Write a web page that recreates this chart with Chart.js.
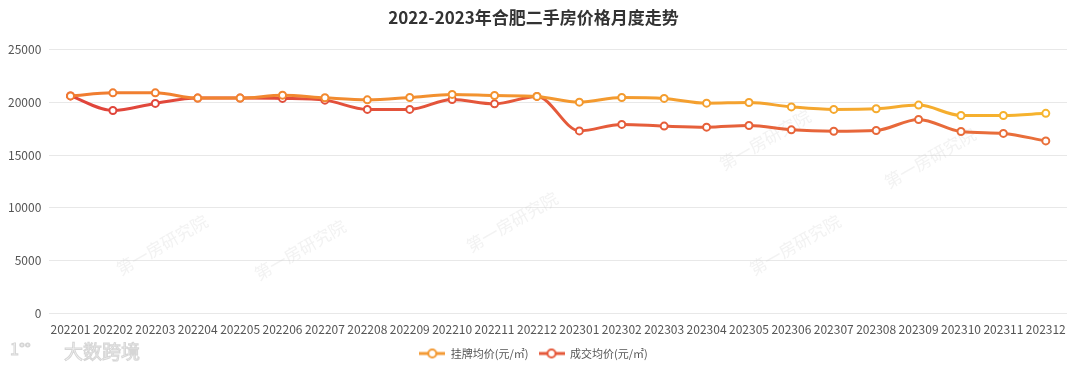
<!DOCTYPE html>
<html>
<head>
<meta charset="utf-8">
<script src="https://cdn.jsdelivr.net/npm/chart.js@4/dist/chart.umd.min.js"></script>
<style>
    html, body { margin: 0; padding: 0; background: #fff; }
    #chartPrecios { display: block; }
</style>
</head>
<body>
<canvas id="chartPrecios" width="1080" height="373"></canvas>
<script>
const meses = ['202201', '202202', '202203', '202204', '202205', '202206', '202207', '202208', '202209', '202210', '202211', '202212',
    '202301', '202302', '202303', '202304', '202305', '202306', '202307', '202308', '202309', '202310', '202311', '202312'];
const guapai = [20600, 20890, 20890, 20390, 20390, 20670, 20420, 20230, 20450, 20740, 20640, 20550,
    20010, 20450, 20360, 19910, 19980, 19560, 19320, 19380, 19730, 18750, 18750, 18950];
const chengjiao = [20600, 19220, 19890, 20390, 20390, 20360, 20200, 19320, 19320, 20260, 19850, 20550,
    17290, 17900, 17740, 17640, 17800, 17390, 17260, 17330, 18370, 17230, 17050, 16340];
const yTicks = [0, 5000, 10000, 15000, 20000, 25000];
const nombres = ['挂牌均价(元/㎡)', '成交均价(元/㎡)'];
const titulo = '2022-2023年合肥二手房价格月度走势';

const FONT = '"Noto Sans CJK SC", "Noto Sans", sans-serif';
const colores = [['#f07a30', '#f6b52e'], ['#e0433b', '#e9703a']];

const mezclar = (a, b, t) => {
    const pa = [1, 3, 5].map(i => parseInt(a.substr(i, 2), 16));
    const pb = [1, 3, 5].map(i => parseInt(b.substr(i, 2), 16));
    const c = pa.map((v, i) => Math.round(v + (pb[i] - v) * t));
    return `rgb(${c[0]}, ${c[1]}, ${c[2]})`;
};

const gradiente = (par) => (context) => {
    const chart = context.chart;
    const area = chart.chartArea;
    if (!area) return par[0];
    const g = chart.ctx.createLinearGradient(area.left, 0, area.right, 0);
    g.addColorStop(0, par[0]);
    g.addColorStop(1, par[1]);
    return g;
};

const coloresPuntos = (par) => meses.map((m, i) => mezclar(par[0], par[1], i / (meses.length - 1)));

const iconoLeyenda = (color) => {
    const c = document.createElement('canvas');
    c.width = 26;
    c.height = 12;
    const x = c.getContext('2d');
    x.strokeStyle = color;
    x.lineWidth = 3;
    x.beginPath();
    x.moveTo(0, 6);
    x.lineTo(26, 6);
    x.stroke();
    x.fillStyle = '#fff';
    x.lineWidth = 2;
    x.beginPath();
    x.arc(13, 6, 4, 0, Math.PI * 2);
    x.fill();
    x.stroke();
    return c;
};

const marcaAgua = {
    id: 'marcaAgua',
    beforeDatasetsDraw(chart) {
        const ctx = chart.ctx;
        ctx.save();
        ctx.fillStyle = 'rgba(205, 205, 205, 0.25)';
        ctx.font = '17px ' + FONT;
        ctx.textAlign = 'center';
        ctx.textBaseline = 'middle';
        [[162, 245], [300, 250], [512, 222], [795, 245], [765, 140], [930, 158]].forEach(p => {
            ctx.save();
            ctx.translate(p[0], p[1]);
            ctx.rotate(-Math.PI / 6);
            ctx.fillText('第一房研究院', 0, 0);
            ctx.restore();
        });
        ctx.restore();
    },
    afterDraw(chart) {
        const ctx = chart.ctx;
        ctx.save();
        ctx.font = '19px ' + FONT;
        ctx.textBaseline = 'middle';
        ctx.fillStyle = '#f6f6f6';
        ctx.strokeStyle = '#d6d6d6';
        ctx.lineWidth = 1;
        ctx.fillText('大数跨境', 64, 352);
        ctx.strokeText('大数跨境', 64, 352);
        ctx.font = '16px ' + FONT;
        ctx.strokeText('1°°', 10, 349);
        ctx.restore();
    }
};

const ctx = document.getElementById('chartPrecios').getContext('2d');

const chartPrecios = new Chart(ctx, {
    type: 'line',
    data: {
        labels: meses,
        datasets: [guapai, chengjiao].map((serie, i) => ({
            label: nombres[i],
            data: serie,
            borderColor: gradiente(colores[i]),
            borderWidth: 3,
            cubicInterpolationMode: 'monotone',
            pointRadius: 3.5,
            pointHoverRadius: 4,
            pointBorderWidth: 2,
            pointBackgroundColor: '#fff',
            pointBorderColor: coloresPuntos(colores[i]),
            fill: false
        }))
    },
    options: {
        responsive: false,
        animation: false,
        devicePixelRatio: 1,
        layout: { padding: { left: 0, right: 13, top: 0, bottom: 4 } },
        plugins: {
            title: {
                display: true,
                text: titulo,
                color: '#333',
                font: { family: FONT, size: 17, weight: 'bold' },
                padding: { top: 7, bottom: 22 }
            },
            legend: {
                position: 'bottom',
                labels: {
                    color: '#555',
                    font: { family: FONT, size: 11 },
                    usePointStyle: true,
                    pointStyleWidth: 26,
                    boxHeight: 12,
                    padding: 10,
                    generateLabels: (chart) => chart.data.datasets.map((d, i) => ({
                        text: d.label,
                        pointStyle: iconoLeyenda(i === 0 ? '#f39a34' : '#e5583a'),
                        fontColor: '#555',
                        datasetIndex: i,
                        hidden: false,
                        lineWidth: 0
                    }))
                }
            },
            tooltip: { enabled: false }
        },
        scales: {
            x: {
                offset: true,
                grid: { display: false },
                border: { display: false },
                ticks: {
                    color: '#555',
                    font: { family: FONT, size: 12 },
                    maxRotation: 0,
                    autoSkip: false,
                    padding: 1
                }
            },
            y: {
                min: yTicks[0],
                max: yTicks[yTicks.length - 1],
                afterBuildTicks: (axis) => { axis.ticks = yTicks.map(v => ({ value: v })); },
                grid: { color: '#e8e8e8', drawTicks: false },
                border: { display: false },
                ticks: {
                    color: '#555',
                    font: { family: FONT, size: 12 },
                    padding: 8,
                    callback: (v) => String(v)
                }
            }
        }
    },
    plugins: [marcaAgua]
});
</script>
</body>
</html>
